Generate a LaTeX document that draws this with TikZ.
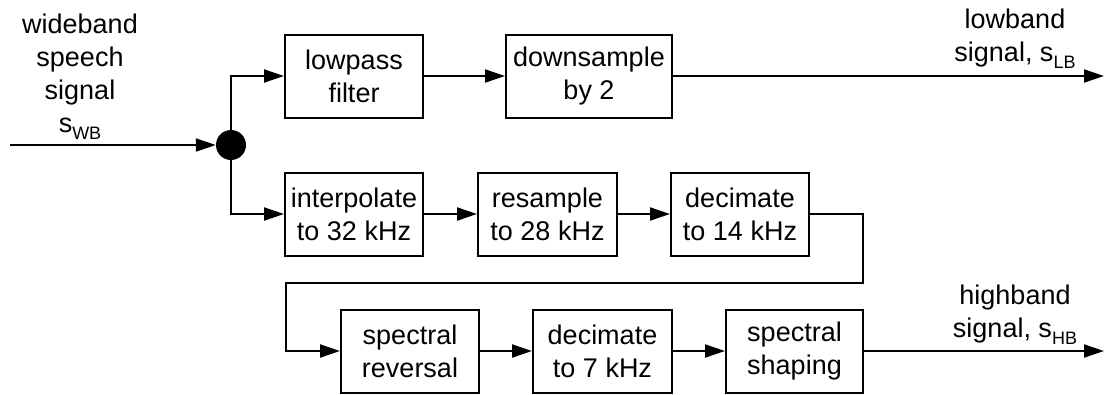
\documentclass[tikz,border=0pt]{standalone}
\usepackage{fontspec}
\setmainfont{Liberation Sans}
\usetikzlibrary{arrows.meta}
\newcommand\mysub[1]{\raisebox{-7pt}{\fontsize{18}{18}\selectfont #1}}
\begin{document}
\begin{tikzpicture}[x=1pt,y=-1pt,
  every node/.style={font=\fontsize{27}{33}\selectfont},
  blk/.style={draw, line width=2pt, minimum height=83pt, minimum width=138pt, inner sep=0pt, align=center},
  sig/.style={line width=2pt, -{Triangle[length=20pt,width=13pt]}},
  lbl/.style={align=center, inner sep=0pt}]
\useasboundingbox (0,0) rectangle (1105,394);
% blocks
\node[blk] (lp) at (354,76) {lowpass\\filter};
\node[blk, minimum width=166pt] (ds) at (589,76) {downsample\\by 2};
\node[blk] (ip) at (354,214) {interpolate\\to 32 kHz};
\node[blk, minimum width=139pt] (rs) at (547.5,214) {resample\\to 28 kHz};
\node[blk] (dA) at (740,214) {decimate\\to 14 kHz};
\node[blk] (sr) at (410,351) {spectral\\reversal};
\node[blk, minimum width=139pt] (dB) at (602.5,351) {decimate\\to 7 kHz};
\node[blk, minimum width=137pt] (sh) at (794.5,351) {spectral\\shaping};
% junction
\node[circle, fill=black, minimum size=30pt, inner sep=0pt] (j) at (231,145) {};
\coordinate (in) at (10,145);
\coordinate (lbo) at (1104,76);
\coordinate (hbo) at (1104,351);
\coordinate (c1) at (863,283);
\coordinate (c2) at (286,283);
% connectors
\draw[sig] (in) -- (j);
\draw[sig] (j.north) |- (lp.west);
\draw[sig] (j.south) |- (ip.west);
\draw[sig] (lp) -- (ds);
\draw[sig] (ds.east) -- (lbo);
\draw[sig] (ip) -- (rs);
\draw[sig] (rs) -- (dA);
\draw[sig] (dA.east) -| (c1) -- (c2) |- (sr.west);
\draw[sig] (sr) -- (dB);
\draw[sig] (dB) -- (sh);
\draw[sig] (sh.east) -- (hbo);
% labels (base anchor = last line's baseline)
\node[lbl, anchor=base] (tin) at (80,132) {wideband\\speech\\signal\\s\mysub{WB}};
\node[lbl, anchor=base] (tlb) at (1015,61) {lowband\\signal, s\mysub{LB}};
\node[lbl, anchor=base] (thb) at (1015,337) {highband\\signal, s\mysub{HB}};
\end{tikzpicture}
\end{document}
